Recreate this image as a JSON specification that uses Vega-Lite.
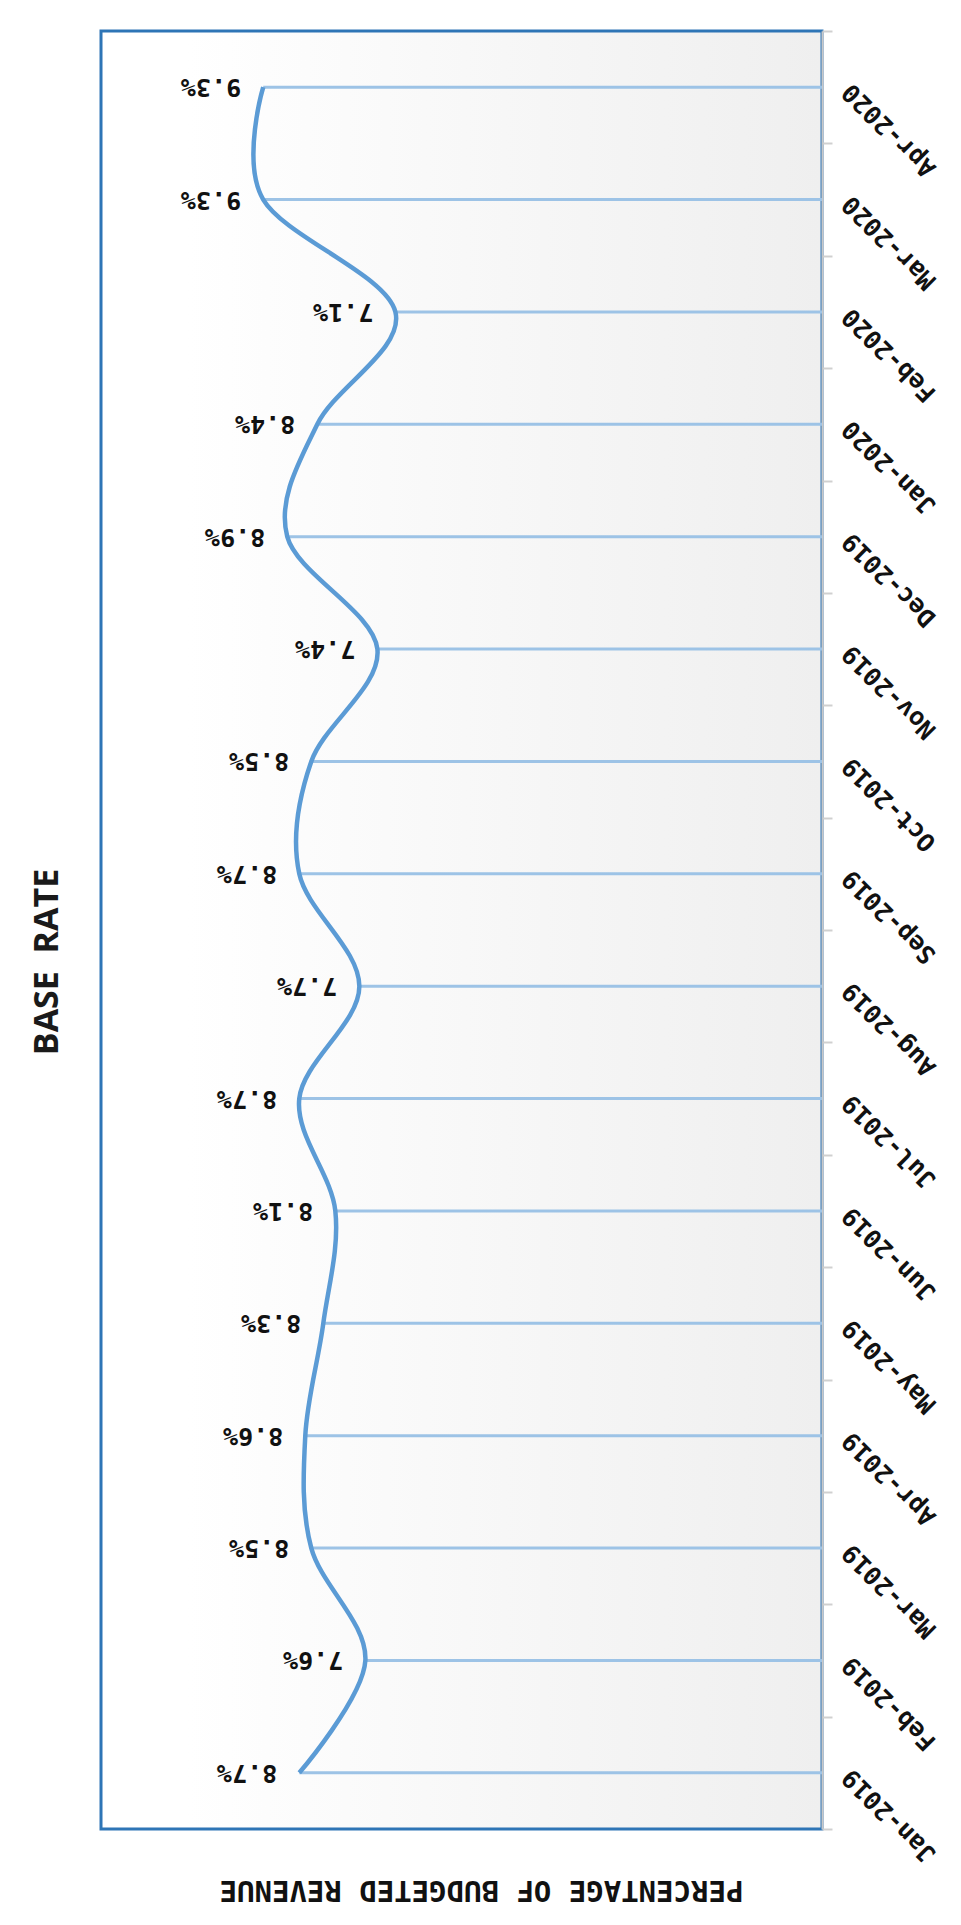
{
  "$schema": "https://vega.github.io/schema/vega-lite/v6.json",
  "width": 721,
  "height": 1798,
  "autosize": {"type": "none"},
  "padding": {"left": 101, "top": 31, "right": 139, "bottom": 96},
  "background": "#ffffff",
  "title": {
    "text": "BASE\u00a0 RATE",
    "orient": "left",
    "anchor": "middle",
    "font": "Open Sans",
    "fontWeight": "bold",
    "fontSize": 34,
    "color": "#1a1a1a",
    "offset": 36,
    "dx": -32
  },
  "data": {
    "values": [
      {"month": "Jan-2019", "rate": 0.087},
      {"month": "Feb-2019", "rate": 0.076},
      {"month": "Mar-2019", "rate": 0.085},
      {"month": "Apr-2019", "rate": 0.086},
      {"month": "May-2019", "rate": 0.083},
      {"month": "Jun-2019", "rate": 0.081},
      {"month": "Jul-2019", "rate": 0.087},
      {"month": "Aug-2019", "rate": 0.077},
      {"month": "Sep-2019", "rate": 0.087},
      {"month": "Oct-2019", "rate": 0.085},
      {"month": "Nov-2019", "rate": 0.074},
      {"month": "Dec-2019", "rate": 0.089},
      {"month": "Jan-2020", "rate": 0.084},
      {"month": "Feb-2020", "rate": 0.071},
      {"month": "Mar-2020", "rate": 0.093},
      {"month": "Apr-2020", "rate": 0.093}
    ]
  },
  "encoding": {
    "y": {
      "field": "month",
      "type": "nominal",
      "sort": ["Apr-2020", "Mar-2020", "Feb-2020", "Jan-2020", "Dec-2019", "Nov-2019", "Oct-2019", "Sep-2019", "Aug-2019", "Jul-2019", "Jun-2019", "May-2019", "Apr-2019", "Mar-2019", "Feb-2019", "Jan-2019"],
      "scale": {"paddingInner": 0, "paddingOuter": 0},
      "axis": {
        "orient": "right",
        "title": null,
        "tickBand": "extent",
        "tickSize": 10,
        "tickWidth": 2,
        "tickColor": "#d0d0d0",
        "domainColor": "#c8c8c8",
        "domainWidth": 2,
        "labelAngle": 225,
        "labelAlign": "right",
        "labelBaseline": "middle",
        "labelPadding": 14,
        "labelFont": "DejaVu Sans Mono",
        "labelFontWeight": "bold",
        "labelFontSize": 25,
        "labelColor": "#111111"
      }
    },
    "x": {
      "field": "rate",
      "type": "quantitative",
      "scale": {"domain": [0, 0.12], "reverse": true, "nice": false},
      "axis": {
        "orient": "bottom",
        "title": "PERCENTAGE OF BUDGETED REVENUE",
        "titleAngle": 180,
        "titleAlign": "center",
        "titleBaseline": "middle",
        "titleX": 380,
        "titleY": 60,
        "titleFont": "DejaVu Sans Mono",
        "titleFontWeight": "bold",
        "titleFontSize": 29,
        "titleColor": "#111111",
        "labels": false,
        "ticks": false,
        "grid": false,
        "domain": false
      }
    }
  },
  "layer": [
    {
      "mark": {"type": "rule", "color": "#9dc3e6", "strokeWidth": 3},
      "encoding": {"x2": {"datum": 0}}
    },
    {
      "mark": {"type": "line", "interpolate": "cardinal", "color": "#5b9bd5", "strokeWidth": 4.5}
    },
    {
      "mark": {
        "type": "text",
        "angle": 180,
        "align": "left",
        "baseline": "middle",
        "dx": 22,
        "font": "DejaVu Sans Mono",
        "fontWeight": "bold",
        "fontSize": 25,
        "color": "#111111"
      },
      "encoding": {"text": {"field": "rate", "format": ".1%"}}
    }
  ],
  "config": {
    "view": {
      "stroke": "#2e75b6",
      "strokeWidth": 3,
      "fill": {
        "gradient": "linear",
        "x1": 0, "y1": 0, "x2": 1, "y2": 0,
        "stops": [
          {"offset": 0, "color": "#ffffff"},
          {"offset": 0.12, "color": "#ffffff"},
          {"offset": 1, "color": "#efefef"}
        ]
      }
    }
  }
}
